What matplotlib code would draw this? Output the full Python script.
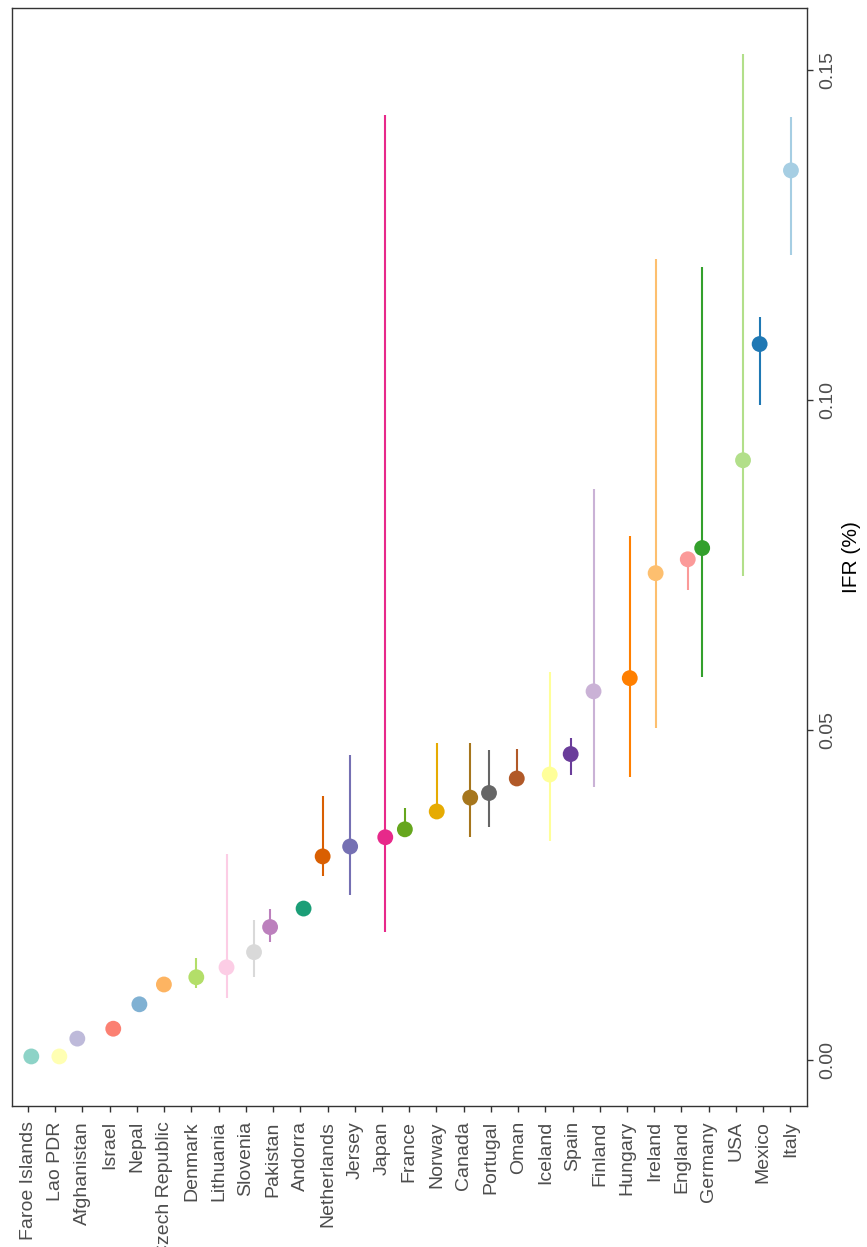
import numpy as np
import matplotlib
matplotlib.use("Agg")
import matplotlib.pyplot as plt

plt.rcParams['font.family'] = ['Liberation Sans', 'DejaVu Sans']

# countries, ordered by IFR
countries = ['Faroe Islands', 'Lao PDR', 'Afghanistan', 'Israel', 'Nepal', 'Czech Republic',
             'Denmark', 'Lithuania', 'Slovenia', 'Pakistan', 'Andorra', 'Netherlands',
             'Jersey', 'Japan', 'France', 'Norway', 'Canada', 'Portugal', 'Oman', 'Iceland',
             'Spain', 'Finland', 'Hungary', 'Ireland', 'England', 'Germany', 'USA',
             'Mexico', 'Italy']

# IFR (%) point estimate and interval (nan = no interval drawn)
ifr = [0.0006, 0.0006, 0.0033, 0.0048, 0.0085, 0.0115, 0.0126, 0.0141, 0.0164, 0.0202,
       0.0230, 0.0309, 0.0324, 0.0338, 0.0350, 0.0377, 0.0398, 0.0405, 0.0427, 0.0433,
       0.0464, 0.0559, 0.0579, 0.0738, 0.0759, 0.0776, 0.0909, 0.1085, 0.1348]
lower = [np.nan, np.nan, np.nan, np.nan, np.nan, np.nan, 0.0109, 0.0094, 0.0126, 0.0180,
         np.nan, 0.0280, 0.0250, 0.0194, 0.0345, 0.0372, 0.0339, 0.0353, 0.0422, 0.0332,
         0.0432, 0.0414, 0.0429, 0.0503, 0.0712, 0.0580, 0.0733, 0.0992, 0.1220]
upper = [np.nan, np.nan, np.nan, np.nan, np.nan, np.nan, 0.0155, 0.0312, 0.0212, 0.0229,
         np.nan, 0.0400, 0.0463, 0.1432, 0.0383, 0.0481, 0.0480, 0.0470, 0.0471, 0.0588,
         0.0489, 0.0865, 0.0795, 0.1214, 0.0764, 0.1202, 0.1524, 0.1126, 0.1429]

# horizontal jitter of each point (category units)
jitter = [0.12, 0.15, -0.19, 0.13, 0.09, -0.01, 0.18, 0.29, 0.30, -0.11,
          0.12, -0.18, -0.17, 0.12, -0.16, 0.01, 0.24, -0.07, -0.05, 0.16,
          -0.07, -0.23, 0.10, 0.05, 0.23, -0.24, 0.26, -0.13, 0.02]

colors = ['#8DD3C7', '#FFFFB3', '#BEBADA', '#FB8072', '#80B1D3', '#FDB462', '#B3DE69',
          '#FCCDE5', '#D9D9D9', '#BC80BD',
          '#1B9E77', '#D95F02', '#7570B3', '#E7298A', '#66A61E', '#E6AB02', '#A6761D', '#666666',
          '#B15928', '#FFFF99', '#6A3D9A', '#CAB2D6', '#FF7F00', '#FDBF6F', '#FB9A99',
          '#33A02C', '#B2DF8A', '#1F78B4', '#A6CEE3']

fig = plt.figure(figsize=(8.67, 12.47), dpi=100)
ax = fig.add_axes([0.0135, 0.1131, 0.9170, 0.8805])

x = np.arange(len(countries)) + np.array(jitter)
ax.vlines(x, lower, upper, colors=colors, linewidth=1.5, zorder=2)
ax.scatter(x, ifr, s=130, c=colors, edgecolors='none', zorder=3)

ax.set_xlim(-0.6, len(countries) - 0.4)
ax.set_ylim(-0.0069, 0.1594)
ax.set_xticks(np.arange(len(countries)))
ax.set_xticklabels(countries, rotation=90)
ax.set_yticks([0.0, 0.05, 0.10, 0.15])
ax.set_yticklabels(['0.00', '0.05', '0.10', '0.15'], rotation=90, va='center')
ax.yaxis.tick_right()
ax.yaxis.set_label_position('right')
ax.set_ylabel('IFR (%)', fontsize=15, labelpad=4)

ax.tick_params(axis='both', length=4, width=1.0, color='#333333',
               labelcolor='#4D4D4D', labelsize=14)
ax.tick_params(axis='x', pad=7)
ax.tick_params(axis='y', pad=5)
for sp in ax.spines.values():
    sp.set_color('#333333')
    sp.set_linewidth(1.0)

fig.savefig('out.png', dpi=100)
